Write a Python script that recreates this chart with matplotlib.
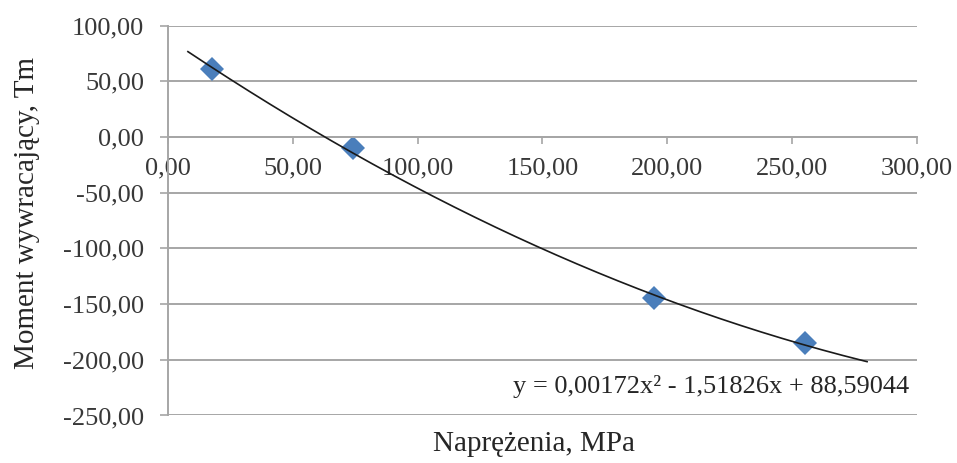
import numpy as np
import matplotlib.pyplot as plt
from matplotlib.ticker import FuncFormatter, MultipleLocator

# measured points
naprezenia = [17.6, 74.0, 194.5, 255.0]
moment = [61.0, -10.0, -144.5, -185.0]

# polynomial trendline (from the chart's equation)
coef = [0.00172, -1.51826, 88.59044]
trend_range = [8.0, 280.0]
equation = 'y = 0,00172x² - 1,51826x + 88,59044'

plt.rcParams['font.family'] = ['Liberation Serif', 'DejaVu Serif']

fig = plt.figure(figsize=(9.57, 4.63), dpi=100)
ax = fig.add_axes([0.1755, 0.1026, 0.7827, 0.8423])

grid_c = '#a6a6a6'
ax.set_xlim(0, 300)
ax.set_ylim(-250, 100)
ax.xaxis.set_major_locator(MultipleLocator(50))
ax.yaxis.set_major_locator(MultipleLocator(50))
ax.yaxis.grid(True, color=grid_c, lw=1.4)
ax.set_axisbelow(True)

for s in ['top', 'right']:
    ax.spines[s].set_visible(False)
ax.spines['bottom'].set_position(('data', 0))
ax.spines['bottom'].set_color(grid_c)
ax.spines['left'].set_color(grid_c)
ax.spines['bottom'].set_linewidth(1.4)
ax.spines['left'].set_linewidth(1.4)

fmt = FuncFormatter(lambda v, p: ('%.2f' % v).replace('.', ','))
ax.xaxis.set_major_formatter(fmt)
ax.yaxis.set_major_formatter(fmt)
ax.tick_params(axis='x', direction='out', length=5, width=1.2, color=grid_c,
               pad=10, labelsize=19, labelcolor='#383838')
ax.tick_params(axis='y', direction='out', length=6, width=1.2, color=grid_c,
               pad=11, labelsize=19, labelcolor='#383838')

xs = np.linspace(trend_range[0], trend_range[1], 200)
ax.plot(xs, np.polyval(coef, xs), color='#1a1a1a', lw=1.2, zorder=3)
ax.plot(naprezenia, moment, 'D', color='#4a7ebb', markersize=12,
        markeredgewidth=0, zorder=2)

ax.text(297, -224, equation, ha='right', va='center', fontsize=19,
        color='#262626')

ax.set_xlabel('Naprężenia, MPa', fontsize=21, color='#262626')
ax.set_ylabel('Moment wywracający, Tm', fontsize=21, color='#262626')
ax.xaxis.set_label_coords(0.489, -0.04)
ax.yaxis.set_label_coords(-0.171, 0.519)

fig.savefig('out.png', dpi=100)
